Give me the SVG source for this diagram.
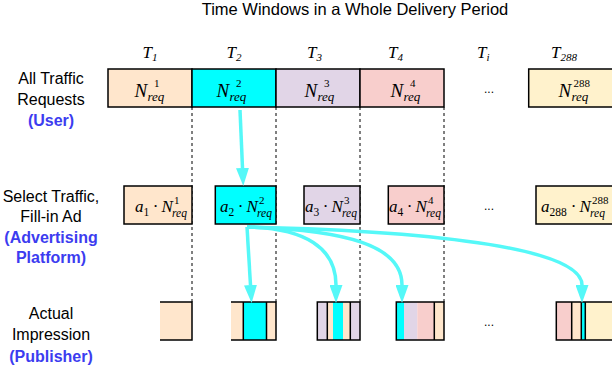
<svg xmlns="http://www.w3.org/2000/svg" width="612" height="366" viewBox="0 0 612 366">
<defs>
<style>
.lbl{font-family:"Liberation Sans",Arial,sans-serif;font-size:16px;fill:#000;text-anchor:middle}
.who{font-family:"Liberation Sans",Arial,sans-serif;font-size:16px;font-weight:bold;fill:#3c3cf0;text-anchor:middle}
.title{font-family:"Liberation Sans",Arial,sans-serif;font-size:16.5px;fill:#000;text-anchor:middle}
.mi{font-family:"Liberation Serif","Times New Roman",serif;font-style:italic;fill:#000}
.mr{font-family:"Liberation Serif","Times New Roman",serif;fill:#000}
.t{font-size:17px}
.ts{font-size:11px}
.n1{font-size:19px}
.s1{font-size:13px}
.p1{font-size:11px}
.n2{font-size:17px}
.s2{font-size:11.5px}
.p2{font-size:11px}
.dots{font-family:"Liberation Sans",Arial,sans-serif;font-size:12px;fill:#000;text-anchor:middle}
.box{stroke:#000;stroke-width:1.5}
.pe{fill:#ffe6cc}.cy{fill:#00ffff}.lv{fill:#e1d5e7}.pk{fill:#f8cecc}.yl{fill:#fff2cc}
.edge{fill:none;stroke:#000;stroke-width:1.5}
.dash{stroke:#000;stroke-width:1;stroke-dasharray:3,3}
.arr{fill:none;stroke:#55f8f8;stroke-width:3.5}
</style>
<marker id="ah" markerUnits="userSpaceOnUse" viewBox="0 0 18 13" markerWidth="18" markerHeight="13" refX="0" refY="6.5" orient="auto">
<path d="M0,0 L18,6.5 L0,13 z" fill="#55f8f8"/>
</marker>
</defs>

<text class="title" x="355" y="15">Time Windows in a Whole Delivery Period</text>

<g id="time-labels">
<text class="mi t" x="142.5" y="57.5">T<tspan class="mr ts" dy="3.2">1</tspan></text>
<text class="mi t" x="226.5" y="57.5">T<tspan class="mr ts" dy="3.2">2</tspan></text>
<text class="mi t" x="307" y="57.5">T<tspan class="mr ts" dy="3.2">3</tspan></text>
<text class="mi t" x="388" y="57.5">T<tspan class="mr ts" dy="3.2">4</tspan></text>
<text class="mi t" x="477" y="57.5">T<tspan class="mi ts" dy="3.2">i</tspan></text>
<text class="mi t" x="551" y="57.5">T<tspan class="mr ts" dy="3.2">288</tspan></text>
</g>

<g id="row-labels">
<text class="lbl" x="51" y="83.5">All Traffic</text>
<text class="lbl" x="51" y="104.5">Requests</text>
<text class="who" x="51" y="125.5">(User)</text>
<text class="lbl" x="51" y="202">Select Traffic,</text>
<text class="lbl" x="51" y="221.5">Fill-in Ad</text>
<text class="who" x="51" y="243">(Advertising</text>
<text class="who" x="51" y="262.5">Platform)</text>
<text class="lbl" x="51" y="319">Actual</text>
<text class="lbl" x="51" y="339.5">Impression</text>
<text class="who" x="51" y="362">(Publisher)</text>
</g>

<g id="dashed-lines">
<line class="dash" x1="192" y1="107" x2="192" y2="302"/>
<line class="dash" x1="276" y1="107" x2="276" y2="302"/>
<line class="dash" x1="360" y1="107" x2="360" y2="302"/>
<line class="dash" x1="444" y1="107" x2="444" y2="302"/>
</g>

<!-- Row 1 -->
<g id="req-1">
<rect class="box pe" x="108" y="69" width="84" height="38"/>
<text class="mi n1" x="134.5" y="96.5">N</text>
<text class="mr p1" x="154" y="86.5">1</text>
<text class="mi s1" x="147.5" y="101">req</text>
</g>
<g id="req-2">
<rect class="box cy" x="192" y="69" width="84" height="38"/>
<text class="mi n1" x="216.5" y="96.5">N</text>
<text class="mr p1" x="236" y="86.5">2</text>
<text class="mi s1" x="229.5" y="101">req</text>
</g>
<g id="req-3">
<rect class="box lv" x="276" y="69" width="84" height="38"/>
<text class="mi n1" x="304.5" y="96.5">N</text>
<text class="mr p1" x="324" y="86.5">3</text>
<text class="mi s1" x="317.5" y="101">req</text>
</g>
<g id="req-4">
<rect class="box pk" x="360" y="69" width="84" height="38"/>
<text class="mi n1" x="390.5" y="96.5">N</text>
<text class="mr p1" x="410" y="86.5">4</text>
<text class="mi s1" x="403.5" y="101">req</text>
</g>
<g id="req-dots"><text class="dots" x="489" y="93">...</text></g>
<g id="req-288">
<rect class="box yl" x="528.7" y="69" width="90" height="38"/>
<text class="mi n1" x="558.5" y="96.5">N</text>
<text class="mr p1" x="573.5" y="86.5">288</text>
<text class="mi s1" x="571.5" y="101">req</text>
</g>

<!-- Row 2 -->
<g id="sel-1">
<rect class="box pe" x="124" y="186" width="68" height="38"/>
<text class="mi n2" x="135" y="212">a</text>
<text class="mr s2" x="143.5" y="215.5">1</text>
<text class="mr n2" x="155.5" y="212" text-anchor="middle">·</text>
<text class="mi n2" x="161.5" y="212">N</text>
<text class="mr p2" x="174" y="203.5">1</text>
<text class="mi s2" x="172" y="217">req</text>
</g>
<g id="sel-2">
<rect class="box cy" x="215.3" y="186" width="60.7" height="38"/>
<text class="mi n2" x="220" y="212">a</text>
<text class="mr s2" x="228.5" y="215.5">2</text>
<text class="mr n2" x="240.5" y="212" text-anchor="middle">·</text>
<text class="mi n2" x="246.5" y="212">N</text>
<text class="mr p2" x="259" y="203.5">2</text>
<text class="mi s2" x="257" y="217">req</text>
</g>
<g id="sel-3">
<rect class="box lv" x="304" y="186" width="56" height="38"/>
<text class="mi n2" x="305" y="212">a</text>
<text class="mr s2" x="313.5" y="215.5">3</text>
<text class="mr n2" x="325.5" y="212" text-anchor="middle">·</text>
<text class="mi n2" x="331.5" y="212">N</text>
<text class="mr p2" x="344" y="203.5">3</text>
<text class="mi s2" x="342" y="217">req</text>
</g>
<g id="sel-4">
<rect class="box pk" x="388.3" y="186" width="55.7" height="38"/>
<text class="mi n2" x="389" y="212">a</text>
<text class="mr s2" x="397.5" y="215.5">4</text>
<text class="mr n2" x="409.5" y="212" text-anchor="middle">·</text>
<text class="mi n2" x="415.5" y="212">N</text>
<text class="mr p2" x="428" y="203.5">4</text>
<text class="mi s2" x="426" y="217">req</text>
</g>
<g id="sel-dots"><text class="dots" x="489" y="210">...</text></g>
<g id="sel-288">
<rect class="box yl" x="536" y="186" width="82" height="38"/>
<text class="mi n2" x="541" y="212">a</text>
<text class="mr s2" x="549.5" y="215.5">288</text>
<text class="mr n2" x="573.5" y="212" text-anchor="middle">·</text>
<text class="mi n2" x="579.5" y="212">N</text>
<text class="mr p2" x="592" y="203.5">288</text>
<text class="mi s2" x="590" y="217">req</text>
</g>

<!-- Row 3 -->
<g id="imp-1">
<rect class="pe" x="160" y="302" width="32" height="38"/>
<path class="edge" d="M160,302 H192 V340 H160"/>
</g>
<g id="imp-2">
<rect class="pe" x="231" y="302" width="12.3" height="38"/>
<rect class="cy" x="243.3" y="302" width="23.2" height="38"/>
<rect class="pe" x="266.5" y="302" width="9.5" height="38"/>
<path class="edge" d="M231,302 H276 V340 H231 M243.3,302 V340 M266.5,302 V340"/>
</g>
<g id="imp-3">
<rect class="lv" x="317.3" y="302" width="10" height="38"/>
<rect class="pe" x="327.3" y="302" width="5.7" height="38"/>
<rect class="cy" x="333" y="302" width="10" height="38"/>
<rect class="pe" x="343" y="302" width="7.3" height="38"/>
<rect class="lv" x="350.3" y="302" width="9.7" height="38"/>
<path class="edge" d="M317.3,302 H360 V340 H317.3 Z M327.3,302 V340 M350.3,302 V340"/>
</g>
<g id="imp-4">
<rect class="cy" x="396.3" y="302" width="7.7" height="38"/>
<rect class="lv" x="404" y="302" width="13.3" height="38"/>
<rect class="pk" x="417.3" y="302" width="17" height="38"/>
<rect class="pe" x="434.3" y="302" width="9.7" height="38"/>
<path class="edge" d="M396.3,302 H444 V340 H396.3 Z M434.3,302 V340"/>
</g>
<g id="imp-dots"><text class="dots" x="489" y="326">...</text></g>
<g id="imp-288">
<rect class="pk" x="556.3" y="302" width="15.4" height="38"/>
<rect class="pe" x="571.7" y="302" width="9.6" height="38"/>
<rect class="cy" x="581.3" y="302" width="4" height="38"/>
<rect class="yl" x="585.3" y="302" width="30" height="38"/>
<path class="edge" d="M615,302 H556.3 V340 H615 M571.7,302 V340 M581.3,302 V340 M585.3,302 V340"/>
</g>

<g id="connectors">
<path class="arr" d="M240,110 L242.5,168" marker-end="url(#ah)"/>
<path class="arr" d="M247,227 L250.5,285" marker-end="url(#ah)"/>
<path class="arr" d="M247,227 C305,228 336,248 336,285" marker-end="url(#ah)"/>
<path class="arr" d="M247,227 C345,230 402,245 402,285" marker-end="url(#ah)"/>
<path class="arr" d="M247,227 C445,231 582,250 582,285" marker-end="url(#ah)"/>
</g>
</svg>
